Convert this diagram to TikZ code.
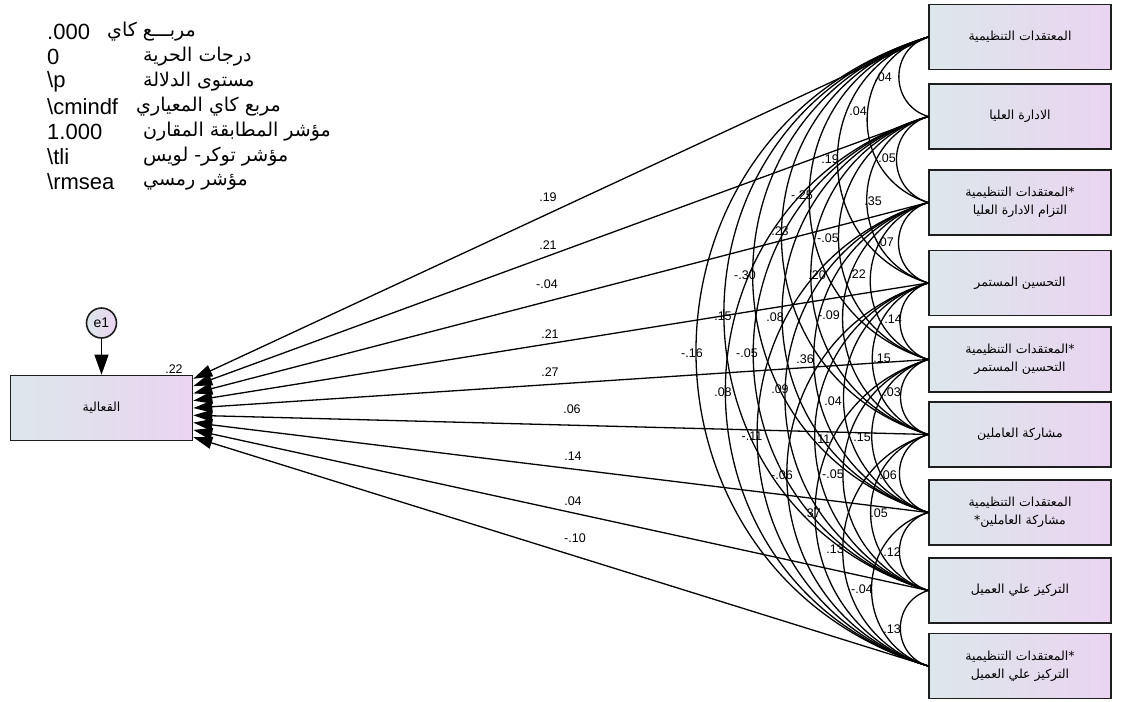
\documentclass[tikz,border=0pt]{standalone}
\usepackage{fontspec}
\setmainfont{Liberation Sans}
\newfontfamily\arabicfont[Script=Arabic]{DejaVu Sans}
\TeXXeTstate=1
\usetikzlibrary{arrows.meta}
\definecolor{boxL}{RGB}{221,231,235}
\definecolor{boxR}{RGB}{234,212,241}
\definecolor{edge}{RGB}{30,30,30}
\begin{document}
\begin{tikzpicture}[x=1pt,y=-1pt,
  box/.style={draw=edge, line width=1.6pt, left color=boxL, right color=boxR,
    minimum width=182pt, minimum height=65pt, inner sep=0pt, align=center,
    font=\arabicfont\fontsize{12.5}{18}\selectfont},
  errc/.style={circle, draw=edge, line width=1.6pt, left color=boxL, right color=boxR,
    minimum size=30pt, inner sep=0pt, font=\fontsize{14}{15}\selectfont},
  arcline/.style={line width=1.3pt, black},
  pathline/.style={line width=1.3pt, black, -{Triangle[length=19pt,width=12pt]}},
  num/.style={font=\fontsize{12.5}{14}\selectfont, inner sep=0pt},
  statn/.style={font=\fontsize{22}{24}\selectfont, anchor=west, inner sep=0pt},
  stata/.style={font=\arabicfont\fontsize{19}{24}\selectfont, anchor=west, inner sep=0pt}]
\useasboundingbox (0,0) rectangle (1123,701);

% statistics block
\node[statn] (s1) at (47,32) {.000};
\node[stata] (a1) at (107,32) {\beginR مربـــع كاي\endR};
\node[statn] (s2) at (47,57) {0};
\node[stata] (a2) at (143,57) {\beginR درجات الحرية\endR};
\node[statn] (s3) at (47,82) {\textbackslash p};
\node[stata] (a3) at (143,82) {\beginR مستوى الدلالة\endR};
\node[statn] (s4) at (47,107) {\textbackslash cmindf};
\node[stata] (a4) at (136,107) {\beginR مربع كاي المعياري\endR};
\node[statn] (s5) at (47,132) {1.000};
\node[stata] (a5) at (143,132) {\beginR مؤشر المطابقة المقارن\endR};
\node[statn] (s6) at (47,157) {\textbackslash tli};
\node[stata] (a6) at (143,157) {\beginR مؤشر توكر\hbox{-} لويس\endR};
\node[statn] (s7) at (47,182) {\textbackslash rmsea};
\node[stata] (a7) at (143,182) {\beginR مؤشر رمسي\endR};

% exogenous boxes
\node[box] (b1) at (1020,37) {\beginR المعتقدات التنظيمية\endR};
\node[box] (b2) at (1020,116.5) {\beginR الادارة العليا\endR};
\node[box] (b3) at (1020,202.5) {\beginR\hbox{*}المعتقدات التنظيمية\endR\\\beginR التزام الادارة العليا\endR};
\node[box] (b4) at (1020,283) {\beginR التحسين المستمر\endR};
\node[box] (b5) at (1020,359.5) {\beginR\hbox{*}المعتقدات التنظيمية\endR\\\beginR التحسين المستمر\endR};
\node[box] (b6) at (1020,434.5) {\beginR مشاركة العاملين\endR};
\node[box] (b7) at (1020,512.5) {\beginR المعتقدات التنظيمية\endR\\\beginR مشاركة العاملين\hbox{*}\endR};
\node[box] (b8) at (1020,590.5) {\beginR التركيز علي العميل\endR};
\node[box] (b9) at (1020,666) {\beginR\hbox{*}المعتقدات التنظيمية\endR\\\beginR التركيز علي العميل\endR};

% endogenous box and error
\node[box] (L) at (101.5,408) {\beginR القعالية\endR};
\node[errc] (e1) at (101.5,323) {e1};
\draw[line width=1.3pt, -{Triangle[length=20pt,width=14pt]}] (e1) -- (L);
\node[num] (r2) at (174,369) {.22};

% covariances
\foreach \i in {1,...,8}{
  \pgfmathtruncatemacro{\s}{\i+1}
  \foreach \j in {\s,...,9}{
    \draw[arcline] (b\i.west) to[out=197,in=163,looseness=1.32] (b\j.west);
  }
}

% regression paths
\foreach \i in {1,...,9}{
  \pgfmathsetmacro{\off}{-(\i-5)*7.3}
  \draw[pathline] (b\i.west) -- ([yshift=\off pt]L.east);
}

% path labels
\node[num] (p1) at (548,197) {.19};
\node[num] (p2) at (548,245) {.21};
\node[num] (p3) at (547,284) {-.04};
\node[num] (p4) at (550,334) {.21};
\node[num] (p5) at (550,372) {.27};
\node[num] (p6) at (572,409) {.06};
\node[num] (p7) at (573,456) {.14};
\node[num] (p8) at (573,501) {.04};
\node[num] (p9) at (575,538) {-.10};

% covariance labels
\node[num] (c1) at (883,77) {.04};
\node[num] (c2) at (858,111) {.04};
\node[num] (c3) at (830,159) {.19};
\node[num] (c4) at (887,158) {.05};
\node[num] (c5) at (802,195) {-.25};
\node[num] (c6) at (873,201) {.35};
\node[num] (c7) at (780,231) {.23};
\node[num] (c8) at (828,238) {-.05};
\node[num] (c9) at (885,242) {.07};
\node[num] (c10) at (745,275) {-.30};
\node[num] (c11) at (817,275) {.20};
\node[num] (c12) at (857,274) {.22};
\node[num] (c13) at (723,316) {.15};
\node[num] (c14) at (775,317) {.08};
\node[num] (c15) at (829,315) {-.09};
\node[num] (c16) at (893,319) {.14};
\node[num] (c17) at (692,353) {-.16};
\node[num] (c18) at (747,353) {-.05};
\node[num] (c19) at (805,359) {.36};
\node[num] (c20) at (882,358) {.15};
\node[num] (c21) at (723,392) {.08};
\node[num] (c22) at (780,389) {.09};
\node[num] (c23) at (833,401) {.04};
\node[num] (c24) at (892,392) {.03};
\node[num] (c25) at (752,436) {-.11};
\node[num] (c26) at (822,439) {.11};
\node[num] (c27) at (862,437) {.15};
\node[num] (c28) at (782,475) {-.06};
\node[num] (c29) at (833,474) {-.05};
\node[num] (c30) at (888,475) {.06};
\node[num] (c31) at (812,513) {.37};
\node[num] (c32) at (879,513) {.05};
\node[num] (c33) at (835,549) {.13};
\node[num] (c34) at (892,552) {.12};
\node[num] (c35) at (862,589) {-.04};
\node[num] (c36) at (892,629) {.13};
\end{tikzpicture}
\end{document}
